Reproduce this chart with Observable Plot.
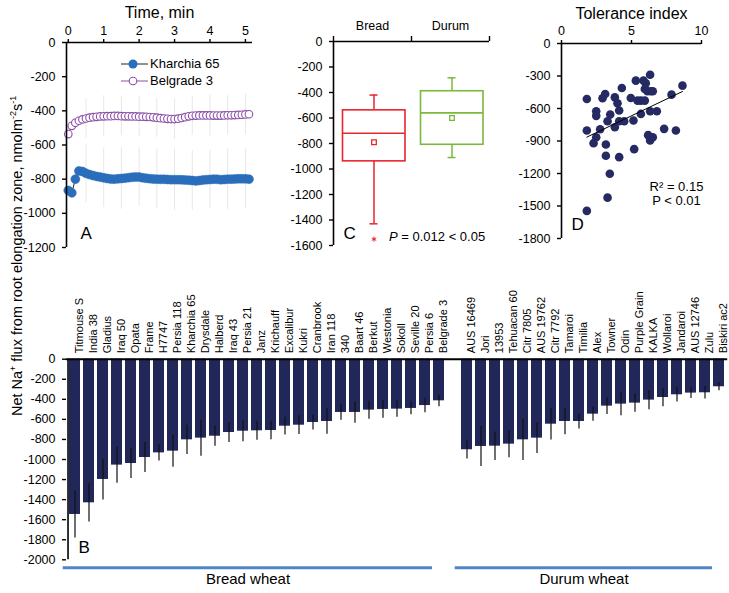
<!DOCTYPE html>
<html><head><meta charset="utf-8">
<script src="https://cdn.jsdelivr.net/npm/d3@7"></script>
<script src="https://cdn.jsdelivr.net/npm/@observablehq/plot@0.6"></script>
<style>
body{margin:0;background:#fff;}
#wrap{position:relative;width:729px;height:593px;overflow:hidden;font-family:Arial,"Liberation Sans",sans-serif;color:#000;}
#wrap svg{position:absolute;}
.lbl{position:absolute;white-space:nowrap;}
</style></head><body><div id="wrap"></div>
<script>
// ---------- Panel A: time course ----------
const seriesNames = ["Kharchia 65", "Belgrade 3"];
const timeMin = [0,0.1,0.2,0.3,0.4,0.5,0.6,0.7,0.8,0.9,1,1.1,1.2,1.3,1.4,1.5,1.6,1.7,1.8,1.9,2,2.1,2.2,2.3,2.4,2.5,2.6,2.7,2.8,2.9,3,3.1,3.2,3.3,3.4,3.5,3.6,3.7,3.8,3.9,4,4.1,4.2,4.3,4.4,4.5,4.6,4.7,4.8,4.9,5,5.1];
const kharchiaFlux = [-866,-880,-800,-752,-755,-766,-773,-779,-784,-788,-792,-796,-799,-800,-798,-796,-794,-791,-789,-787,-788,-792,-795,-797,-799,-800,-801,-801,-802,-803,-803,-803,-804,-805,-806,-808,-810,-808,-805,-803,-802,-800,-801,-803,-802,-800,-800,-799,-798,-798,-798,-800];
const belgradeFlux = [-536,-488,-470,-458,-450,-445,-440,-437,-435,-433,-432,-431,-431,-430,-430,-431,-432,-432,-433,-433,-434,-434,-435,-436,-438,-440,-443,-445,-447,-448,-448,-446,-442,-437,-432,-429,-428,-427,-427,-427,-427,-428,-428,-428,-427,-426,-426,-425,-424,-423,-421,-420];
const errorTimes = [0.5,1,1.5,2,2.5,3,3.5,4,4.5,5];
const kharchiaErr = [170,175,180,170,175,180,175,170,180,175];
const belgradeErr = [115,120,115,120,115,120,115,120,115,120];
const timeTicks = [0,1,2,3,4,5];
const yTicksA = [0,-200,-400,-600,-800,-1000,-1200];

// ---------- Panel C: box plot ----------
const boxGroups = ["Bread", "Durum"];
const boxQ1 = [-940, -810];
const boxMedian = [-720, -560];
const boxQ3 = [-540, -390];
const boxMean = [-790, -600];
const whiskerLow = [-1430, -910];
const whiskerHigh = [-420, -285];
const outlierGroup = ["Bread"];
const outlierValue = [-1550];
const yTicksC = [0,-200,-400,-600,-800,-1000,-1200,-1400,-1600];

// ---------- Panel D: scatter ----------
const toleranceIndex = [1.81,1.81,1.81,2.48,2.48,2.48,2.29,2.76,2.93,3.12,3.17,3.17,3.29,3.45,3.48,3.29,3.81,4.0,3.81,4.12,4.12,4.12,4.31,4.48,4.95,5.14,5.19,5.31,5.43,5.67,5.67,5.86,5.95,6.02,5.95,6.14,6.33,6.33,6.19,6.33,6.38,6.52,6.52,6.81,7.33,7.86,8.17,8.64];
const scatterFlux = [-512,-803,-1545,-626,-668,-865,-920,-791,-506,-466,-932,-1036,-1423,-1202,-656,-717,-497,-552,-773,-619,-717,-1049,-411,-717,-503,-711,-975,-343,-527,-527,-650,-343,-527,-368,-420,-441,-288,-626,-846,-895,-441,-441,-865,-626,-788,-472,-803,-389];
const xTicksD = [0,5,10];
const yTicksD = [0,-300,-600,-900,-1200,-1500,-1800];

// ---------- Panel B: genotypes ----------
const breadNames = ["Titmouse S","India 38","Gladius","Iraq 50","Opata","Frame","H7747","Persia 118","Kharchia 65","Drysdale","Halberd","Iraq 43","Persia 21","Janz","Krichauff","Excalibur","Kukri","Cranbrook","Iran 118","340","Baart 46","Berkut","Westonia","Sokoll","Seville 20","Persia 6","Belgrade 3"];
const breadFlux = [-1548,-1432,-1199,-1056,-1040,-980,-934,-917,-804,-787,-768,-731,-718,-714,-711,-668,-658,-631,-621,-531,-531,-508,-501,-498,-491,-462,-415];
const breadErr = [235,190,205,180,150,150,80,160,145,180,100,100,105,95,92,88,93,75,128,77,108,90,88,82,63,73,58];
const durumNames = ["AUS 16469","Jori","13953","Tehuacan 60","Citr 7805","AUS 19762","Citr 7792","Tamaroi","Timilia","Alex","Towner","Odin","Purple Grain","KALKA","Wollaroi","Jandaroi","AUS 12746","Zulu","Biskiri ac2"];
const durumFlux = [-903,-870,-867,-847,-804,-787,-648,-621,-621,-548,-468,-448,-438,-408,-382,-355,-338,-335,-275];
const durumErr = [93,200,142,135,205,153,158,133,75,70,83,115,90,95,92,72,53,62,40];
const groupNames = ["Bread wheat", "Durum wheat"];
const yTicksB = [0,-200,-400,-600,-800,-1000,-1200,-1400,-1600,-1800,-2000];

// ---------- styling ----------
const FONT = "Arial, 'Liberation Sans', sans-serif";
const baseStyle = {fontFamily: FONT, fontSize: "12px", color: "#000", background: "transparent", overflow: "visible"};
const fmt = d => String(d);
const wrap = document.getElementById("wrap");
function place(el, left, top) { el.style.left = left + "px"; el.style.top = top + "px"; wrap.appendChild(el); return el; }
function html(str, left, top, css) { const d = document.createElement("div"); d.className = "lbl"; d.innerHTML = str; if (css) d.style.cssText += css; return place(d, left, top); }

const KCOL = "#2a6ebb", BCOL = "#8c4fa9";
const TICKFONT = 12.5;
const yAxisOpts = {tickSize: 4, tickPadding: 7, tickFormat: fmt, label: null, fontSize: TICKFONT, strokeWidth: 1.4};

// ===== Panel A =====
const kData = timeMin.map((t, i) => ({t, v: kharchiaFlux[i]}));
const bData = timeMin.map((t, i) => ({t, v: belgradeFlux[i]}));
const errA = [];
errorTimes.forEach((t, i) => {
  const j = timeMin.indexOf(t);
  errA.push({t, v: kharchiaFlux[j], e: kharchiaErr[i]});
  errA.push({t, v: belgradeFlux[j], e: belgradeErr[i]});
});
const plotA = Plot.plot({
  width: 260, height: 260, marginLeft: 66, marginTop: 42, marginRight: 8, marginBottom: 13,
  style: baseStyle,
  x: {domain: [-0.05, 5.2]},
  y: {domain: [-1200, 0]},
  marks: [
    Plot.ruleX(errA, {x: "t", y1: d => d.v - d.e, y2: d => d.v + d.e, stroke: "#e8e8e8", strokeWidth: 1}),
    Plot.line(kData, {x: "t", y: "v", stroke: "#222", strokeWidth: 1}),
    Plot.dot(kData, {x: "t", y: "v", r: 4.5, fill: KCOL, stroke: KCOL, strokeWidth: 0.5}),
    Plot.line(bData, {x: "t", y: "v", stroke: BCOL, strokeWidth: 1}),
    Plot.dot(bData, {x: "t", y: "v", r: 3.8, fill: "white", stroke: BCOL, strokeWidth: 1.1}),
    Plot.ruleX([-0.05], {stroke: "#000", strokeWidth: 1.6}),
    Plot.ruleY([0], {stroke: "#000", strokeWidth: 1.6}),
    Plot.axisY({ticks: yTicksA, ...yAxisOpts}),
    Plot.axisX({anchor: "top", ticks: timeTicks, tickSize: 4, tickPadding: 4, tickFormat: fmt, label: null, fontSize: TICKFONT, strokeWidth: 1.4}),
    Plot.text(["Time, min"], {frameAnchor: "top", dy: -36, fontSize: 16}),
    Plot.text(["A"], {frameAnchor: "bottom-left", dx: 14, dy: -9, fontSize: 17})
  ]
});
place(plotA, 0, 0);

// legend for panel A
const legendSym = [
  `<svg width="28" height="12" style="position:static;vertical-align:middle"><line x1="0" x2="27" y1="6" y2="6" stroke="#222"/><circle cx="12" cy="6" r="4.5" fill="${KCOL}"/></svg>`,
  `<svg width="28" height="12" style="position:static;vertical-align:middle"><line x1="0" x2="27" y1="6" y2="6" stroke="${BCOL}"/><circle cx="12" cy="6" r="3.8" fill="white" stroke="${BCOL}" stroke-width="1.1"/></svg>`
];
seriesNames.forEach((n, i) => html(legendSym[i] + `<span style="vertical-align:middle;margin-left:1px">${n}</span>`, 121, 54 + i * 17, "font-size:13px;line-height:17px"));

// ===== Panel C =====
const boxes = boxGroups.map((g, i) => ({g, q1: boxQ1[i], med: boxMedian[i], q3: boxQ3[i], mean: boxMean[i], lo: whiskerLow[i], hi: whiskerHigh[i]}));
const outs = outlierGroup.map((g, i) => ({g, v: outlierValue[i]}));
const plotC = Plot.plot({
  width: 240, height: 260, marginLeft: 73, marginRight: 11, marginTop: 41, marginBottom: 15,
  style: baseStyle,
  x: {type: "band", domain: boxGroups, padding: 0},
  y: {domain: [-1600, 0]},
  color: {domain: boxGroups, range: ["#e8262d", "#7cb83b"]},
  marks: [
    Plot.ruleX(boxes, {x: "g", y1: "q3", y2: "hi", stroke: "g", strokeWidth: 1.5, dx: 1.5}),
    Plot.ruleX(boxes, {x: "g", y1: "q1", y2: "lo", stroke: "g", strokeWidth: 1.5, dx: 1.5}),
    Plot.rect(boxes, {x: "g", y1: "q1", y2: "q3", stroke: "g", fill: "white", strokeWidth: 1.6, insetLeft: 9.5, insetRight: 6}),
    Plot.tickY(boxes, {x: "g", y: "med", stroke: "g", strokeWidth: 1.6, insetLeft: 9.5, insetRight: 6}),
    Plot.tickY(boxes, {x: "g", y: "hi", stroke: "g", strokeWidth: 1.5, insetLeft: 36.5, insetRight: 33.5}),
    Plot.tickY(boxes, {x: "g", y: "lo", stroke: "g", strokeWidth: 1.5, insetLeft: 36.5, insetRight: 33.5}),
    Plot.dot(boxes, {x: "g", y: "mean", symbol: "square", r: 2.6, stroke: "g", fill: "white", strokeWidth: 1.3, dx: 1.5}),
    Plot.dot(outs, {x: "g", y: "v", symbol: "asterisk", r: 2.4, stroke: "g", strokeWidth: 1, dx: 1.5}),
    Plot.ruleX([boxGroups[0]], {dx: -39, stroke: "#000", strokeWidth: 1.6}),
    Plot.ruleY([0], {stroke: "#000", strokeWidth: 1.6}),
    Plot.ruleX(boxGroups, {dx: 39, y1: 0, y2: 0, insetTop: -5, stroke: "#000", strokeWidth: 1.4}),
    Plot.ruleX([boxGroups[0]], {dx: -39, y1: 0, y2: 0, insetTop: -5, stroke: "#000", strokeWidth: 1.4}),
    Plot.axisY({ticks: yTicksC, ...yAxisOpts}),
    Plot.axisX({anchor: "top", tickSize: 0, tickPadding: 12, label: null, fontSize: TICKFONT}),
    Plot.text(["C"], {frameAnchor: "bottom-left", dx: 10, dy: -7, fontSize: 17})
  ]
});
place(plotC, 260, 0);
html('<i>P</i> = 0.012 &lt; 0.05', 389, 229, "font-size:13px;line-height:16px");

// ===== Panel D =====
const pts = toleranceIndex.map((x, i) => ({x, y: scatterFlux[i]}));
const plotD = Plot.plot({
  width: 229, height: 260, marginLeft: 61, marginRight: 28, marginTop: 43, marginBottom: 22,
  style: baseStyle,
  x: {domain: [0, 10]},
  y: {domain: [-1800, 0]},
  marks: [
    Plot.dot(pts, {x: "x", y: "y", r: 4.3, fill: "#252a62"}),
    Plot.linearRegressionY(pts, {x: "x", y: "y", stroke: "#000", strokeWidth: 1, ci: 0}),
    Plot.ruleX([0], {stroke: "#000", strokeWidth: 1.6}),
    Plot.ruleY([0], {stroke: "#000", strokeWidth: 1.6}),
    Plot.axisY({ticks: yTicksD, ...yAxisOpts}),
    Plot.axisX({anchor: "top", ticks: xTicksD, tickSize: 4, tickPadding: 5, tickFormat: fmt, label: null, fontSize: TICKFONT, strokeWidth: 1.4}),
    Plot.text(["Tolerance index"], {frameAnchor: "top", dy: -36, fontSize: 16}),
    Plot.text(["D"], {frameAnchor: "bottom-left", dx: 10, dy: -9, fontSize: 17}),
    Plot.text(["R\u00B2 = 0.15"], {frameAnchor: "bottom-right", textAnchor: "middle", dx: -25, dy: -48, fontSize: 13}),
    Plot.text(["P < 0.01"], {frameAnchor: "bottom-right", textAnchor: "middle", dx: -25, dy: -34, fontSize: 13})
  ]
});
place(plotD, 500, 0);

// ===== Panel B =====
const GAP = " ";
const slots = [...breadNames, GAP, ...durumNames];
const bars = [
  ...breadNames.map((n, i) => ({n, v: breadFlux[i], e: breadErr[i]})),
  ...durumNames.map((n, i) => ({n, v: durumFlux[i], e: durumErr[i]}))
];
const groups = [
  {name: groupNames[0], first: breadNames[0], last: breadNames[breadNames.length - 1], mid: breadNames[13]},
  {name: groupNames[1], first: durumNames[0], last: durumNames[durumNames.length - 1], mid: durumNames[9]}
];
const plotB = Plot.plot({
  width: 729, height: 323, marginLeft: 66, marginRight: 1.8, marginTop: 88.7, marginBottom: 33.7,
  style: baseStyle,
  x: {type: "band", domain: slots, paddingInner: 0.25, paddingOuter: 0.12, axis: null},
  y: {domain: [-2000, 0]},
  marks: [
    Plot.barY(bars, {x: "n", y: "v", fill: "#22275a"}),
    Plot.ruleX(bars, {x: "n", y1: d => d.v - d.e, y2: d => d.v + d.e, stroke: "#111", strokeWidth: 1.2}),
    Plot.ruleY([0], {stroke: "#000", strokeWidth: 2}),
    Plot.ruleX([slots[0]], {dx: -6.97, stroke: "#000", strokeWidth: 1.6}),
    Plot.axisY({ticks: yTicksB, ...yAxisOpts}),
    Plot.text(bars, {x: "n", text: "n", frameAnchor: "top", rotate: -90, textAnchor: "start", dy: -6, fontSize: 11}),
    Plot.ruleY(groups, {x1: "first", x2: "last", y: () => -2000, dy: 8, insetLeft: -6.3, insetRight: 12, stroke: "#4f86c6", strokeWidth: 3}),
    Plot.text(groups, {x: "mid", text: "name", frameAnchor: "bottom", dy: 24, dx: -9, fontSize: 15}),
    Plot.text(["B"], {frameAnchor: "bottom-left", dx: 12, dy: -7, fontSize: 17})
  ]
});
place(plotB, 0, 270);

// shared y-axis title
html('Net Na<sup style="font-size:9px">+</sup> flux from root elongation zone, nmolm<sup style="font-size:9px">-2</sup>s<sup style="font-size:9px">-1</sup>', -185, 245,
  "width:400px;text-align:center;font-size:14.5px;line-height:18px;transform:rotate(-90deg);transform-origin:50% 50%");
</script></body></html>
